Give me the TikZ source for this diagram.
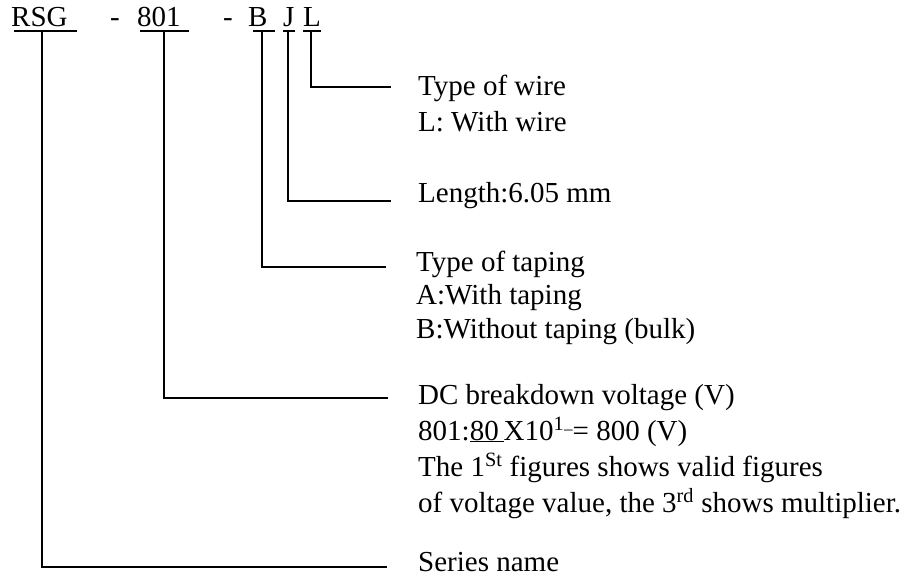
\documentclass[tikz,border=0pt]{standalone}
\usepackage{fontspec}
\setmainfont{Liberation Serif}
\usetikzlibrary{positioning,calc}

\tikzset{
  code/.style={anchor=base west, inner sep=0pt},
  desc/.style={anchor=base west, inner sep=0pt, align=left},
  uline/.style={line width=1.4pt},
  lead/.style={line width=1.3pt},
}

\begin{document}
\begin{tikzpicture}[x=1pt, y=-1pt, font=\fontsize{29}{36}\selectfont]
    \useasboundingbox (0,0) rectangle (913,577);

    % Part number
    \node[code] (rsg)   at (11,27)  {RSG};
    \node[code] (dashA) at (110,27) {-};
    \node[code] (volt)  at (137,27) {801};
    \node[code] (dashB) at (223,27) {-};
    \node[code] (tape)  at (248,27) {B};
    \node[code] (len)   at (283,27) {J};
    \node[code] (wire)  at (303,27) {L};

    % Underlines
    \foreach \xa/\xb in {14/77, 140/189, 253/275, 283/295, 303/321}
        \draw[uline] (\xa,31) -- (\xb,31);

    % Feet of the leads
    \coordinate (rsgU)  at (42,31);
    \coordinate (voltU) at (164,31);
    \coordinate (tapeU) at (262,31);
    \coordinate (lenU)  at (288,31);
    \coordinate (wireU) at (311,31);

    % Descriptions (base = last line)
    \node[desc] (wireTxt) at (418,132) {Type of wire\\L: With wire};
    \node[desc] (lenTxt)  at (418,203) {Length:6.05 mm};
    \node[desc, font=\fontsize{29}{33.5}\selectfont] (tapeTxt) at (416,338)
        {Type of taping\\A:With taping\\B:Without taping (bulk)};
    \node[desc] (voltTxt) at (418,512)
        {DC breakdown voltage (V)\\
         801:\underline{80\,}X10\textsuperscript{1}\raisebox{6pt}{\fontsize{17}{17}\selectfont --}= 800 (V)\\
         The 1\textsuperscript{St} figures shows valid figures\\
         of voltage value, the 3\textsuperscript{rd} shows multiplier.};
    \node[desc] (rsgTxt)  at (418,571) {Series name};

    % Ends of the leads
    \coordinate (wireEnd) at (391,87);
    \coordinate (lenEnd)  at (391,201);
    \coordinate (tapeEnd) at (386,267);
    \coordinate (voltEnd) at (388,398);
    \coordinate (rsgEnd)  at (387,567);

    % Leads
    \draw[lead] (wireU) |- (wireEnd);
    \draw[lead] (lenU)  |- (lenEnd);
    \draw[lead] (tapeU) |- (tapeEnd);
    \draw[lead] (voltU) |- (voltEnd);
    \draw[lead] (rsgU)  |- (rsgEnd);
\end{tikzpicture}
\end{document}
